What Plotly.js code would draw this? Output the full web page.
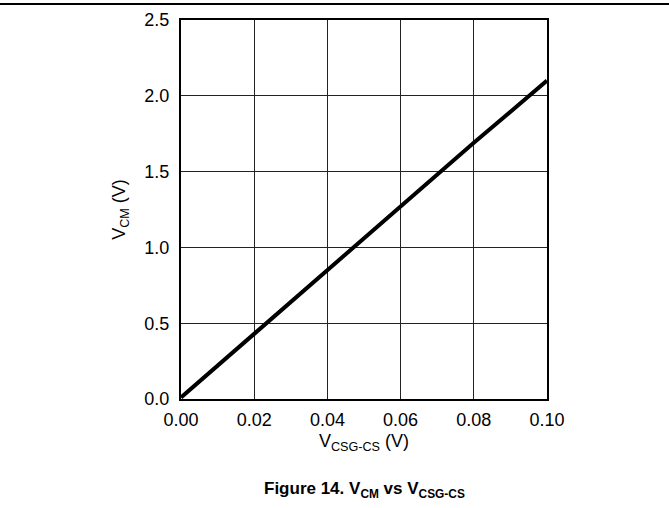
<!DOCTYPE html>
<html><head><meta charset="utf-8">
<script src="https://cdn.plot.ly/plotly-3.0.1.min.js"></script>
<style>html,body{margin:0;padding:0;background:#fff}</style>
</head><body>
<div id="chart" style="width:669px;height:508px"></div>
<script>
const vCsg = [0, 0.02, 0.04, 0.06, 0.08, 0.10];
const vCm = [0.01, 0.43, 0.85, 1.27, 1.69, 2.10];
const xTicks = [0, 0.02, 0.04, 0.06, 0.08, 0.10];
const xTickText = ['0.00', '0.02', '0.04', '0.06', '0.08', '0.10'];
const yTicks = [0, 0.5, 1.0, 1.5, 2.0, 2.5];
const yTickText = ['0.0', '0.5', '1.0', '1.5', '2.0', '2.5'];

const W = 669, H = 508, L = 181, R = 122, T = 20, B = 109;
const pw = W - L - R, ph = H - T - B;
const font = 'Liberation Sans, Arial, sans-serif';

Plotly.newPlot('chart', [{
  x: vCsg, y: vCm, mode: 'lines', type: 'scatter',
  line: {color: '#000', width: 4}, hoverinfo: 'skip'
}], {
  width: W, height: H,
  margin: {l: L, r: R, t: T, b: B, pad: 0},
  paper_bgcolor: '#fff', plot_bgcolor: '#fff',
  showlegend: false,
  font: {family: font, color: '#000', size: 18},
  xaxis: {
    range: [0, 0.10], tickvals: xTicks, ticktext: xTickText,
    showgrid: true, gridcolor: '#222', gridwidth: 1,
    showline: true, linecolor: '#000', linewidth: 2, mirror: true,
    zeroline: false, ticks: '', ticklen: 0, ticklabelstandoff: 3,
    tickfont: {family: font, size: 18, color: '#000'},
    title: {text: 'V<sub>CSG-CS</sub> (V)', font: {family: font, size: 18, color: '#000'}, standoff: 6}
  },
  yaxis: {
    range: [0, 2.5], tickvals: yTicks, ticktext: yTickText,
    showgrid: true, gridcolor: '#222', gridwidth: 1,
    showline: true, linecolor: '#000', linewidth: 2, mirror: true,
    zeroline: false, ticks: '', ticklen: 0, ticklabelstandoff: 6,
    tickfont: {family: font, size: 18, color: '#000'},
    title: {text: 'V<sub>CM</sub> (V)', font: {family: font, size: 18, color: '#000'}, standoff: 14}
  },
  shapes: [{
    type: 'line', xref: 'paper', yref: 'paper',
    x0: -L / pw, x1: (W - L) / pw,
    y0: (H - B - 4) / ph, y1: (H - B - 4) / ph,
    line: {color: '#000', width: 2}
  }],
  annotations: [{
    xref: 'paper', yref: 'paper', x: 0.5, y: -(490 - (H - B)) / ph,
    yanchor: 'middle', xanchor: 'center', showarrow: false,
    text: '<b>Figure 14. V<sub>CM</sub> vs V<sub>CSG-CS</sub></b>',
    font: {family: font, size: 17, color: '#000'}
  }]
}, {staticPlot: true});
</script>
</body></html>
